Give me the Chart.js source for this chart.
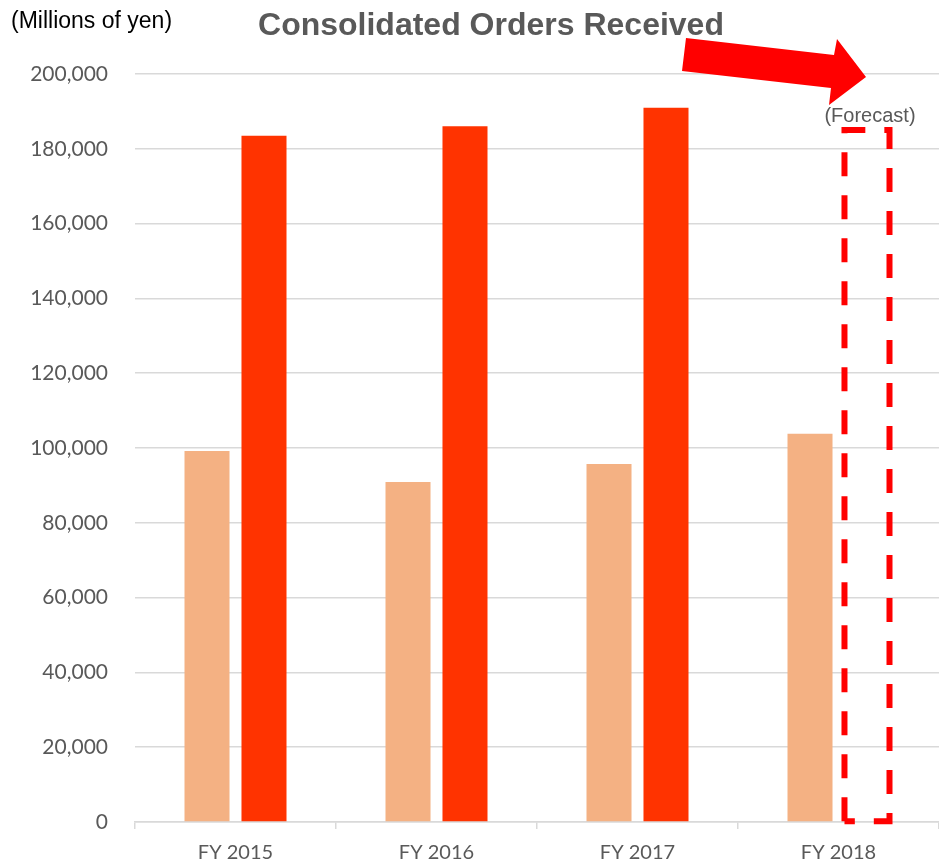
<!DOCTYPE html>
<html>
<head>
<meta charset="utf-8">
<script src="https://cdn.jsdelivr.net/npm/chart.js@4"></script>
<style>
  html, body { margin: 0; padding: 0; background: #fff; }
  #wrap { width: 939px; height: 865px; position: relative; }
</style>
</head>
<body>
<div id="wrap"><canvas id="c" width="939" height="865"></canvas></div>
<script>
// ---- data ----
const categories = ["FY 2015", "FY 2016", "FY 2017", "FY 2018"];
const lightSeries = [99200, 90900, 95750, 103800];
const darkSeries = [183500, 186000, 191000, null];
const forecastSeries = [null, null, null, 185000];
const yTicks = [0, 20000, 40000, 60000, 80000, 100000, 120000, 140000, 160000, 180000, 200000];

const titleText = "Consolidated Orders Received";
const unitText = "(Millions of yen)";
const forecastText = "(Forecast)";

const darkPlot = darkSeries.map((v, i) => v ?? forecastSeries[i]);
const darkColors = darkSeries.map(v => v == null ? "rgba(0,0,0,0)" : "#FF3300");

const decorPlugin = {
  id: "decor",
  afterDatasetsDraw(chart) {
    const ctx = chart.ctx;
    const meta = chart.getDatasetMeta(1);
    forecastSeries.forEach((v, i) => {
      if (v == null) return;
      const el = meta.data[i];
      const half = el.width / 2;
      ctx.save();
      ctx.strokeStyle = "#FF0000";
      ctx.lineWidth = 6;
      ctx.setLineDash([24, 19]);
      ctx.beginPath();
      ctx.moveTo(el.x - half, el.base);
      ctx.lineTo(el.x - half, el.y);
      ctx.lineTo(el.x + half, el.y);
      ctx.lineTo(el.x + half, el.base);
      ctx.lineTo(el.x - half, el.base);
      ctx.stroke();
      ctx.restore();
      // forecast label
      ctx.save();
      ctx.fillStyle = "#595959";
      ctx.font = "20px 'Liberation Sans', Arial, sans-serif";
      ctx.textAlign = "center";
      ctx.textBaseline = "alphabetic";
      ctx.fillText(forecastText, el.x + 3, el.y - 8);
      ctx.restore();
    });
  },
  afterDraw(chart) {
    const ctx = chart.ctx;
    ctx.save();
    // title
    ctx.fillStyle = "#595959";
    ctx.font = "bold 32px 'Liberation Sans', Arial, sans-serif";
    ctx.textAlign = "center";
    ctx.textBaseline = "alphabetic";
    ctx.fillText(titleText, 491, 35);
    // unit
    ctx.fillStyle = "#000";
    ctx.font = "23px 'Liberation Sans', Arial, sans-serif";
    ctx.textAlign = "left";
    ctx.fillText(unitText, 11, 28);
    // arrow
    ctx.fillStyle = "#FF0000";
    ctx.beginPath();
    ctx.moveTo(686, 38);
    ctx.lineTo(834, 55);
    ctx.lineTo(837, 39);
    ctx.lineTo(866, 77);
    ctx.lineTo(829, 105);
    ctx.lineTo(831, 88);
    ctx.lineTo(682, 71);
    ctx.closePath();
    ctx.fill();
    ctx.restore();
  }
};

new Chart(document.getElementById("c"), {
  type: "bar",
  data: {
    labels: categories,
    datasets: [
      { label: "Light", data: lightSeries, backgroundColor: "#F4B183", borderWidth: 0 },
      { label: "Dark", data: darkPlot, backgroundColor: darkColors, borderWidth: 0 }
    ]
  },
  options: {
    responsive: false,
    animation: false,
    categoryPercentage: 0.567,
    barPercentage: 0.79,
    layout: { padding: { top: 74, right: 0, left: 0, bottom: 0 } },
    plugins: { legend: { display: false }, tooltip: { enabled: false }, title: { display: false } },
    scales: {
      x: {
        grid: { display: true, drawOnChartArea: false, drawTicks: true, tickLength: 7, color: "#D9D9D9", lineWidth: 1.5 },
        border: { display: true, color: "#D9D9D9", width: 1.5 },
        ticks: { color: "#595959", font: { family: "Lato, 'Open Sans', sans-serif", size: 20 }, padding: 12 },
        afterFit(s) { s.height = 43; }
      },
      y: {
        min: 0, max: 200000,
        afterBuildTicks(s) { s.ticks = yTicks.map(v => ({ value: v })); },
        grid: { color: "#D9D9D9", lineWidth: 1.5, drawTicks: false },
        border: { display: false },
        ticks: {
          color: "#595959",
          font: { family: "Lato, 'Open Sans', sans-serif", size: 21 },
          padding: 27,
          callback: v => v.toLocaleString("en-US")
        },
        afterFit(s) { s.width = 135; }
      }
    }
  },
  plugins: [decorPlugin]
});
</script>
</body>
</html>
